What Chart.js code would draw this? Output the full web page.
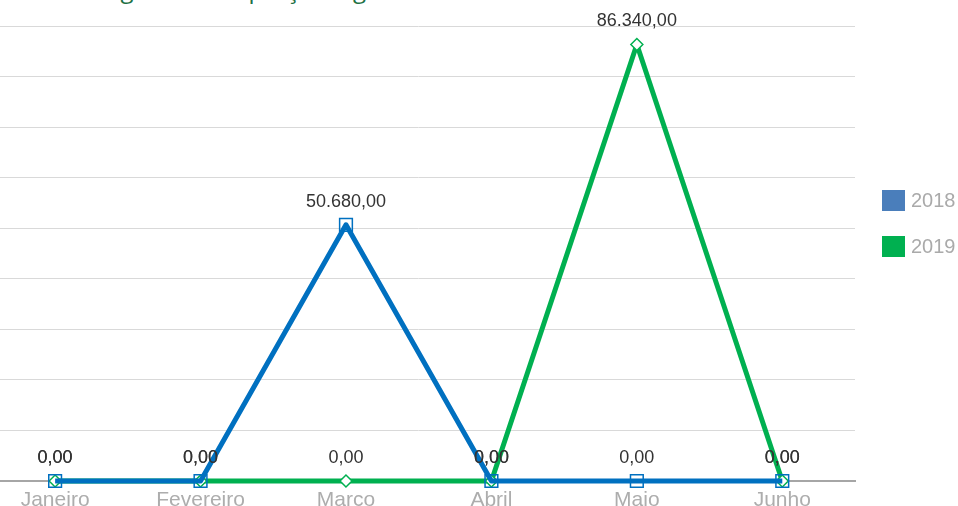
<!DOCTYPE html>
<html>
<head>
<meta charset="utf-8">
<script src="https://cdn.jsdelivr.net/npm/chart.js@4.4.1/dist/chart.umd.min.js"></script>
<style>
  html, body { margin: 0; padding: 0; background: #ffffff; overflow: hidden; }
  body { width: 958px; height: 506px; position: relative; }
  #title { position: absolute; left: -4px; top: -23px; font-family: "Open Sans", sans-serif; font-size: 24px; line-height: 24px; color: #1e7145; white-space: nowrap; }
  #wrap { position: absolute; left: -40px; top: 0; width: 1000px; height: 506px; }
  .leg { position: absolute; left: 882px; height: 21px; font-family: "Liberation Sans", Arial, sans-serif; font-size: 20px; color: #aaaaaa; }
  .leg .box { position: absolute; left: 0; top: 0; width: 23px; height: 21px; }
  .leg .txt { position: absolute; left: 29px; top: -1px; line-height: 23px; }
</style>
</head>
<body>
<div id="title">Total de negociado de preço de gestão</div>
<div id="wrap"><canvas id="c" width="1000" height="506"></canvas></div>
<div class="leg" style="top:190px"><div class="box" style="background:#4a7ebb"></div><div class="txt">2018</div></div>
<div class="leg" style="top:236px"><div class="box" style="background:#00b050"></div><div class="txt">2019</div></div>
<script>
const months = ['Janeiro', 'Fevereiro', 'Março', 'Abril', 'Maio', 'Junho'];
const seriesNames = ['2018', '2019'];
const values2018 = [0, 0, 50680, 0, 0, 0];
const values2019 = [0, 0, 0, 0, 86340, 0];
const yMin = 0;
const yMax = 90000;
const yStep = 10000;

function fmt(v) {
  const parts = v.toFixed(2).split('.');
  const i = parts[0].replace(/\B(?=(\d{3})+(?!\d))/g, '.');
  return i + ',' + parts[1];
}

const labelPlugin = {
  id: 'valueLabels',
  afterDatasetsDraw(chart) {
    const ctx = chart.ctx;
    ctx.save();
    ctx.font = '18px "Liberation Sans", Arial, sans-serif';
    ctx.fillStyle = '#333333';
    ctx.textAlign = 'center';
    ctx.textBaseline = 'middle';
    chart.data.datasets.forEach((ds, di) => {
      const meta = chart.getDatasetMeta(di);
      meta.data.forEach((pt, i) => {
        ctx.fillText(fmt(ds.data[i]), pt.x, pt.y - 23);
      });
    });
    ctx.restore();
  }
};

new Chart(document.getElementById('c'), {
  type: 'line',
  data: {
    labels: months,
    datasets: [
      {
        label: seriesNames[0],
        data: values2018,
        borderColor: '#0070c0',
        borderWidth: 5,
        tension: 0,
        borderJoinStyle: 'round',
        pointStyle: 'rect',
        pointRadius: 9,
        pointBorderWidth: 1.5,
        pointBorderColor: '#0070c0',
        pointBackgroundColor: 'rgba(255,255,255,0)',
        clip: false
      },
      {
        label: seriesNames[1],
        data: values2019,
        borderColor: '#00b050',
        borderWidth: 5,
        tension: 0,
        borderJoinStyle: 'round',
        pointStyle: 'rectRot',
        pointRadius: 6,
        pointBorderWidth: 1.5,
        pointBorderColor: '#00b050',
        pointBackgroundColor: '#ffffff',
        clip: false
      }
    ]
  },
  options: {
    responsive: false,
    animation: false,
    devicePixelRatio: 1,
    events: [],
    layout: { padding: { left: 22.4, right: 105, top: 26, bottom: 0 } },
    plugins: { legend: { display: false }, title: { display: false }, tooltip: { enabled: false } },
    scales: {
      x: {
        type: 'category',
        offset: true,
        grid: { display: false, drawTicks: false },
        border: { display: true, color: '#a6a6a6', width: 2 },
        ticks: {
          color: '#adadad',
          font: { family: '"Liberation Sans", Arial, sans-serif', size: 21 },
          padding: 7,
          maxRotation: 0,
          autoSkip: false
        },
        afterFit(s) { s.height = 25; }
      },
      y: {
        min: yMin,
        max: yMax,
        ticks: { display: false, stepSize: yStep },
        grid: { color: '#d9d9d9', lineWidth: 1, drawTicks: false },
        border: { display: false },
        afterFit(s) { s.width = 0; }
      }
    }
  },
  plugins: [labelPlugin]
});
</script>
</body>
</html>
